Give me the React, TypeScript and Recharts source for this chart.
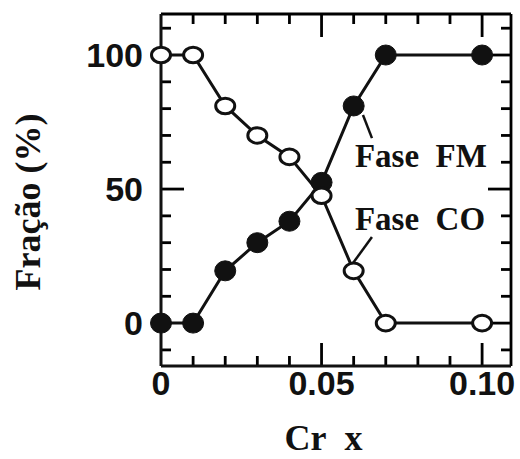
import React from 'react';
import { LineChart, Line, XAxis, YAxis, ReferenceLine, ReferenceDot } from 'recharts';

const crX = [0, 0.01, 0.02, 0.03, 0.04, 0.05, 0.06, 0.07, 0.1];
const faseFM = [0, 0, 19.5, 30, 38, 52.5, 81, 100, 100];
const faseCO = [100, 100, 81, 70, 62, 47.5, 19.5, 0, 0];
const xTicks = [0, 0.01, 0.02, 0.03, 0.04, 0.05, 0.06, 0.07, 0.08, 0.09, 0.1];
const yTicks = [-10, 0, 10, 20, 30, 40, 50, 60, 70, 80, 90, 100, 110];
const xMajor: Record<string, string> = { '0': '0', '0.05': '0.05', '0.1': '0.10' };
const yMajor: Record<string, string> = { '0': '0', '50': '50', '100': '100' };
const X_DOMAIN: [number, number] = [0, 0.109];
const Y_DOMAIN: [number, number] = [-16, 115.3];
const X_TITLE = 'Cr\u00a0\u00a0x';
const Y_TITLE = 'Fração (%)';

const data = crX.map((x, i) => ({ x, fm: faseFM[i], co: faseCO[i] }));

const SANS = '"Liberation Sans", Arial, sans-serif';
const SERIF = '"Liberation Serif", "Times New Roman", serif';
const INK = '#111';
const FRAME = '#000';
const OFF = 8;

const PX_X = (X_DOMAIN[1] - X_DOMAIN[0]) / 350;
const PX_Y = (Y_DOMAIN[1] - Y_DOMAIN[0]) / 352;
const MAJOR = 23;
const MINOR = 10;

const keyOf = (v: number) => String(Math.round(v * 1000) / 1000);

const bottomTick = (p: any) => {
  const k = keyOf(p.payload.value);
  const lab = xMajor[k];
  const ay = p.y - OFF;
  return (
    <g>
      {lab !== undefined && (
        <text x={p.x} y={ay + 29} textAnchor="middle" fontFamily={SANS} fontWeight="bold" fontSize={34} fill={INK}>
          {lab}
        </text>
      )}
      {k === '0.05' && (
        <text x={p.x + 2} y={ay + 84} textAnchor="middle" fontFamily={SERIF} fontWeight="bold" fontSize={36} fill={INK}>
          {X_TITLE}
        </text>
      )}
    </g>
  );
};

const leftTick = (p: any) => {
  const k = keyOf(p.payload.value);
  const lab = yMajor[k];
  const ax = p.x + OFF;
  const tx = ax - 133;
  const ty = p.y + 13;
  return (
    <g>
      {lab !== undefined && (
        <text x={ax - 18} y={p.y} dy="0.36em" textAnchor="end" fontFamily={SANS} fontWeight="bold" fontSize={34} fill={INK}>
          {lab}
        </text>
      )}
      {k === '50' && (
        <text x={tx} y={ty} transform={`rotate(-90 ${tx} ${ty})`} textAnchor="middle" dominantBaseline="central" fontFamily={SERIF} fontWeight="bold" fontSize={36} fill={INK}>
          {Y_TITLE}
        </text>
      )}
    </g>
  );
};

const OpenDot = (p: any) => (
  <ellipse key={`o${p.index}`} cx={p.cx} cy={p.cy} rx={9.5} ry={7.8} fill="#fff" stroke={INK} strokeWidth={3} />
);
const FilledDot = (p: any) => (
  <ellipse key={`f${p.index}`} cx={p.cx} cy={p.cy} rx={10.5} ry={10} fill={INK} stroke={INK} strokeWidth={1} />
);

const textShape = (label: string) => (p: any) => (
  <text x={p.cx} y={p.cy} fontFamily={SERIF} fontWeight="bold" fontSize={33} fill={INK}>
    {label}
  </text>
);

export default function App() {
  const [x0, x1] = X_DOMAIN;
  const [y0, y1] = Y_DOMAIN;

  const xTickLines = xTicks.filter((v) => v !== 0).flatMap((v) => {
    const len = (xMajor[keyOf(v)] !== undefined ? MAJOR : MINOR) * PX_Y;
    return [
      <ReferenceLine key={`xb${v}`} xAxisId="b" yAxisId="l" segment={[{ x: v, y: y0 }, { x: v, y: y0 + len }]} stroke={FRAME} strokeWidth={2.8} ifOverflow="visible" />,
      <ReferenceLine key={`xt${v}`} xAxisId="b" yAxisId="l" segment={[{ x: v, y: y1 }, { x: v, y: y1 - len }]} stroke={FRAME} strokeWidth={2.8} ifOverflow="visible" />,
    ];
  });
  const yTickLines = yTicks.flatMap((v) => {
    const len = (yMajor[keyOf(v)] !== undefined ? MAJOR : MINOR) * PX_X;
    const out = [
      <ReferenceLine key={`yr${v}`} xAxisId="b" yAxisId="l" segment={[{ x: x1, y: v }, { x: x1 - len, y: v }]} stroke={FRAME} strokeWidth={2.8} ifOverflow="visible" />,
    ];
    if (v !== 0 && v !== 100) {
      out.push(
        <ReferenceLine key={`yl${v}`} xAxisId="b" yAxisId="l" segment={[{ x: x0, y: v }, { x: x0 + len, y: v }]} stroke={FRAME} strokeWidth={2.8} ifOverflow="visible" />
      );
    }
    return out;
  });

  return (
    <div style={{ position: 'absolute', left: 0, top: 0, background: '#fff' }}>
      <LineChart width={520} height={459} data={data} margin={{ top: 14, right: 9, left: 0, bottom: 0 }}>
        <XAxis xAxisId="b" dataKey="x" type="number" domain={X_DOMAIN} ticks={xTicks} interval={0} height={93}
          tickLine={false} axisLine={{ stroke: INK, strokeWidth: 3 }} tick={bottomTick} />
        <YAxis yAxisId="l" type="number" domain={Y_DOMAIN} ticks={yTicks} interval={0} width={161}
          tickLine={false} axisLine={{ stroke: INK, strokeWidth: 3 }} tick={leftTick} />
        <ReferenceLine xAxisId="b" yAxisId="l" segment={[{ x: x0, y: y1 }, { x: x1, y: y1 }]} stroke={FRAME} strokeWidth={2.8} ifOverflow="visible" />
        <ReferenceLine xAxisId="b" yAxisId="l" segment={[{ x: x1, y: y0 }, { x: x1, y: y1 }]} stroke={FRAME} strokeWidth={2.8} ifOverflow="visible" />
        {xTickLines}
        {yTickLines}
        <ReferenceLine xAxisId="b" yAxisId="l" segment={[{ x: 0.0629, y: 77.6 }, { x: 0.0657, y: 69 }]} stroke={INK} strokeWidth={2.5} ifOverflow="visible" />
        <ReferenceLine xAxisId="b" yAxisId="l" segment={[{ x: 0.0598, y: 22.4 }, { x: 0.0657, y: 32.1 }]} stroke={INK} strokeWidth={2.5} ifOverflow="visible" />
        <ReferenceDot xAxisId="b" yAxisId="l" x={0.0604} y={58.2} r={0} ifOverflow="visible" shape={textShape('Fase\u00a0\u00a0FM')} />
        <ReferenceDot xAxisId="b" yAxisId="l" x={0.0604} y={34.7} r={0} ifOverflow="visible" shape={textShape('Fase\u00a0\u00a0CO')} />
        <Line xAxisId="b" yAxisId="l" dataKey="fm" stroke={INK} strokeWidth={3} dot={<FilledDot />} activeDot={false} isAnimationActive={false} />
        <Line xAxisId="b" yAxisId="l" dataKey="co" stroke={INK} strokeWidth={3} dot={<OpenDot />} activeDot={false} isAnimationActive={false} />
      </LineChart>
    </div>
  );
}
